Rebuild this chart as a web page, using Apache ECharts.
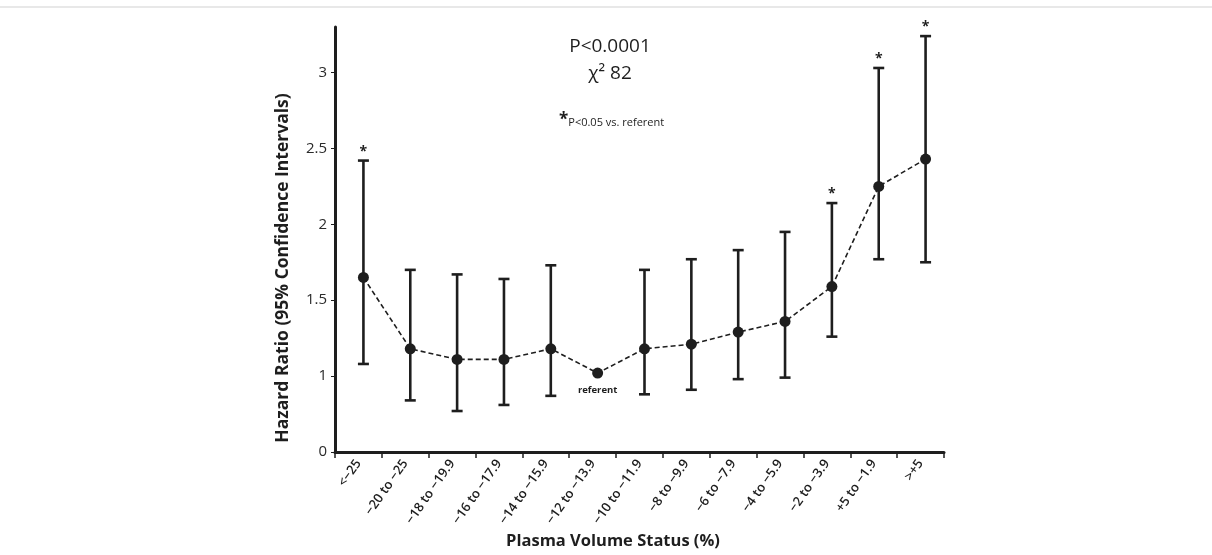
<!DOCTYPE html>
<html><head><meta charset="utf-8">
<script src="https://cdn.jsdelivr.net/npm/echarts@6/dist/echarts.min.js"></script>
<style>html,body{margin:0;padding:0;background:#fff}#c{width:1212px;height:555px}</style>
</head><body><div id="c"></div>
<script>
const categories = ['<\u221225','\u221220 to \u221225','\u221218 to \u221219.9','\u221216 to \u221217.9','\u221214 to \u221215.9','\u221212 to \u221213.9','\u221210 to \u221211.9','\u22128 to \u22129.9','\u22126 to \u22127.9','\u22124 to \u22125.9','\u22122 to \u22123.9','+5 to \u22121.9','>+5'];
const hazard = [1.65, 1.18, 1.11, 1.11, 1.18, 1.02, 1.18, 1.21, 1.29, 1.36, 1.59, 2.25, 2.43];
const lowerCI = [1.08, 0.84, 0.77, 0.81, 0.87, null, 0.88, 0.91, 0.98, 0.99, 1.26, 1.77, 1.75];
const upperCI = [2.42, 1.70, 1.67, 1.64, 1.73, null, 1.70, 1.77, 1.83, 1.95, 2.14, 3.03, 3.24];
const significant = [1,0,0,0,0,0,0,0,0,0,1,1,1];
const referentIndex = 5;
const yTicks = [0.5, 1, 1.5, 2, 2.5, 3];
const yTickLabels = ['0', '1', '1.5', '2', '2.5', '3'];
const yMin = 0.5, yMax = 3.3, yStep = 0.5;

const FONT = 'Open Sans';
const INK = '#1e1e1e';

const errData = categories.map((c, i) => [i, lowerCI[i], upperCI[i]]).filter(d => d[1] != null);
const starData = categories.map((c, i) => [i, upperCI[i]]).filter((d, i) => significant[i]);
const lineData = hazard.map((v, i) => i === referentIndex ? {
  value: v,
  label: {show: true, position: 'bottom', distance: 7, formatter: 'referent', fontFamily: FONT, fontSize: 9.5, fontWeight: 'bold', color: INK}
} : v);

const chart = echarts.init(document.getElementById('c'), null, {renderer: 'canvas'});
chart.setOption({
  animation: false,
  backgroundColor: '#fff',
  grid: [
    {left: 335, right: 268, top: 27, bottom: 103, outerBoundsMode: 'none', containLabel: false},
    {left: 340, right: 263, top: 27, bottom: 103, outerBoundsMode: 'none', containLabel: false}
  ],
  xAxis: [{
    type: 'category',
    gridIndex: 0,
    data: categories,
    boundaryGap: true,
    axisLine: {lineStyle: {color: INK, width: 3}},
    axisTick: {show: true, length: 6, lineStyle: {color: INK, width: 1.5}},
    axisLabel: {rotate: 55, fontFamily: FONT, fontSize: 13, fontWeight: 600, color: INK, margin: 9, interval: 0}
  }, {
    type: 'category',
    gridIndex: 1,
    data: categories,
    boundaryGap: true,
    show: false
  }],
  yAxis: [{
    type: 'value',
    gridIndex: 0,
    min: yMin, max: yMax, interval: yStep,
    axisLine: {show: true, lineStyle: {color: INK, width: 3}},
    axisTick: {show: true, length: 4, lineStyle: {color: INK, width: 1}},
    splitLine: {show: false},
    axisLabel: {
      fontFamily: FONT, fontSize: 15, color: '#2a2a2a', margin: 8, showMaxLabel: false,
      formatter: v => { const k = yTicks.indexOf(+v.toFixed(2)); return k >= 0 ? yTickLabels[k] : ''; }
    }
  }, {
    type: 'value',
    gridIndex: 1,
    min: yMin, max: yMax, interval: yStep,
    show: false
  }],
  series: [
    {
      type: 'custom',
      xAxisIndex: 1, yAxisIndex: 1,
      data: errData,
      z: 3,
      renderItem: (params, api) => {
        const x = api.value(0);
        const lo = api.coord([x, api.value(1)]);
        const hi = api.coord([x, api.value(2)]);
        const w = 5.5;
        const st = {stroke: INK, lineWidth: 2.6};
        return {type: 'group', children: [
          {type: 'line', shape: {x1: lo[0], y1: lo[1], x2: hi[0], y2: hi[1]}, style: st},
          {type: 'line', shape: {x1: hi[0] - w, y1: hi[1], x2: hi[0] + w, y2: hi[1]}, style: st},
          {type: 'line', shape: {x1: lo[0] - w, y1: lo[1], x2: lo[0] + w, y2: lo[1]}, style: st}
        ]};
      }
    },
    {
      type: 'line',
      xAxisIndex: 1, yAxisIndex: 1,
      data: lineData,
      z: 4,
      symbol: 'circle',
      symbolSize: 11,
      itemStyle: {color: INK},
      lineStyle: {color: INK, width: 1.6, type: [5, 3]}
    },
    {
      type: 'custom',
      xAxisIndex: 1, yAxisIndex: 1,
      data: starData,
      z: 5,
      renderItem: (params, api) => {
        const p = api.coord([api.value(0), api.value(1)]);
        return {type: 'text', x: p[0], y: p[1] - 9, style: {text: '*', fontFamily: FONT, fontSize: 14, fontWeight: 'bold', fill: INK, align: 'center', verticalAlign: 'middle'}};
      }
    }
  ],
  graphic: [
    {type: 'rect', x: 0, y: 6, shape: {width: 1212, height: 2}, style: {fill: '#e8e8e8'}},
    {type: 'text', x: 610, y: 47, style: {text: 'P<0.0001', fontFamily: FONT, fontSize: 19, fill: INK, align: 'center', verticalAlign: 'middle'}},
    {type: 'text', x: 610, y: 74, style: {text: '\u03c7\u00b2 82', fontFamily: FONT, fontSize: 19, fill: INK, align: 'center', verticalAlign: 'middle'}},
    {type: 'text', x: 559, y: 120, style: {
      text: '{a|*}{b|P<0.05 vs. referent}',
      align: 'left', verticalAlign: 'middle',
      rich: {a: {fontFamily: FONT, fontSize: 17, fontWeight: 'bold', fill: INK}, b: {fontFamily: FONT, fontSize: 11, fill: INK, padding: [6, 0, 0, 0]}}
    }},
    {type: 'text', x: 283, y: 268, rotation: Math.PI / 2, style: {text: 'Hazard Ratio (95% Confidence Intervals)', fontFamily: FONT, fontSize: 17.5, fontWeight: 'bold', fill: INK, align: 'center', verticalAlign: 'middle'}},
    {type: 'text', x: 613, y: 541, style: {text: 'Plasma Volume Status (%)', fontFamily: FONT, fontSize: 16.5, fontWeight: 'bold', fill: INK, align: 'center', verticalAlign: 'middle'}}
  ]
});
</script></body></html>
